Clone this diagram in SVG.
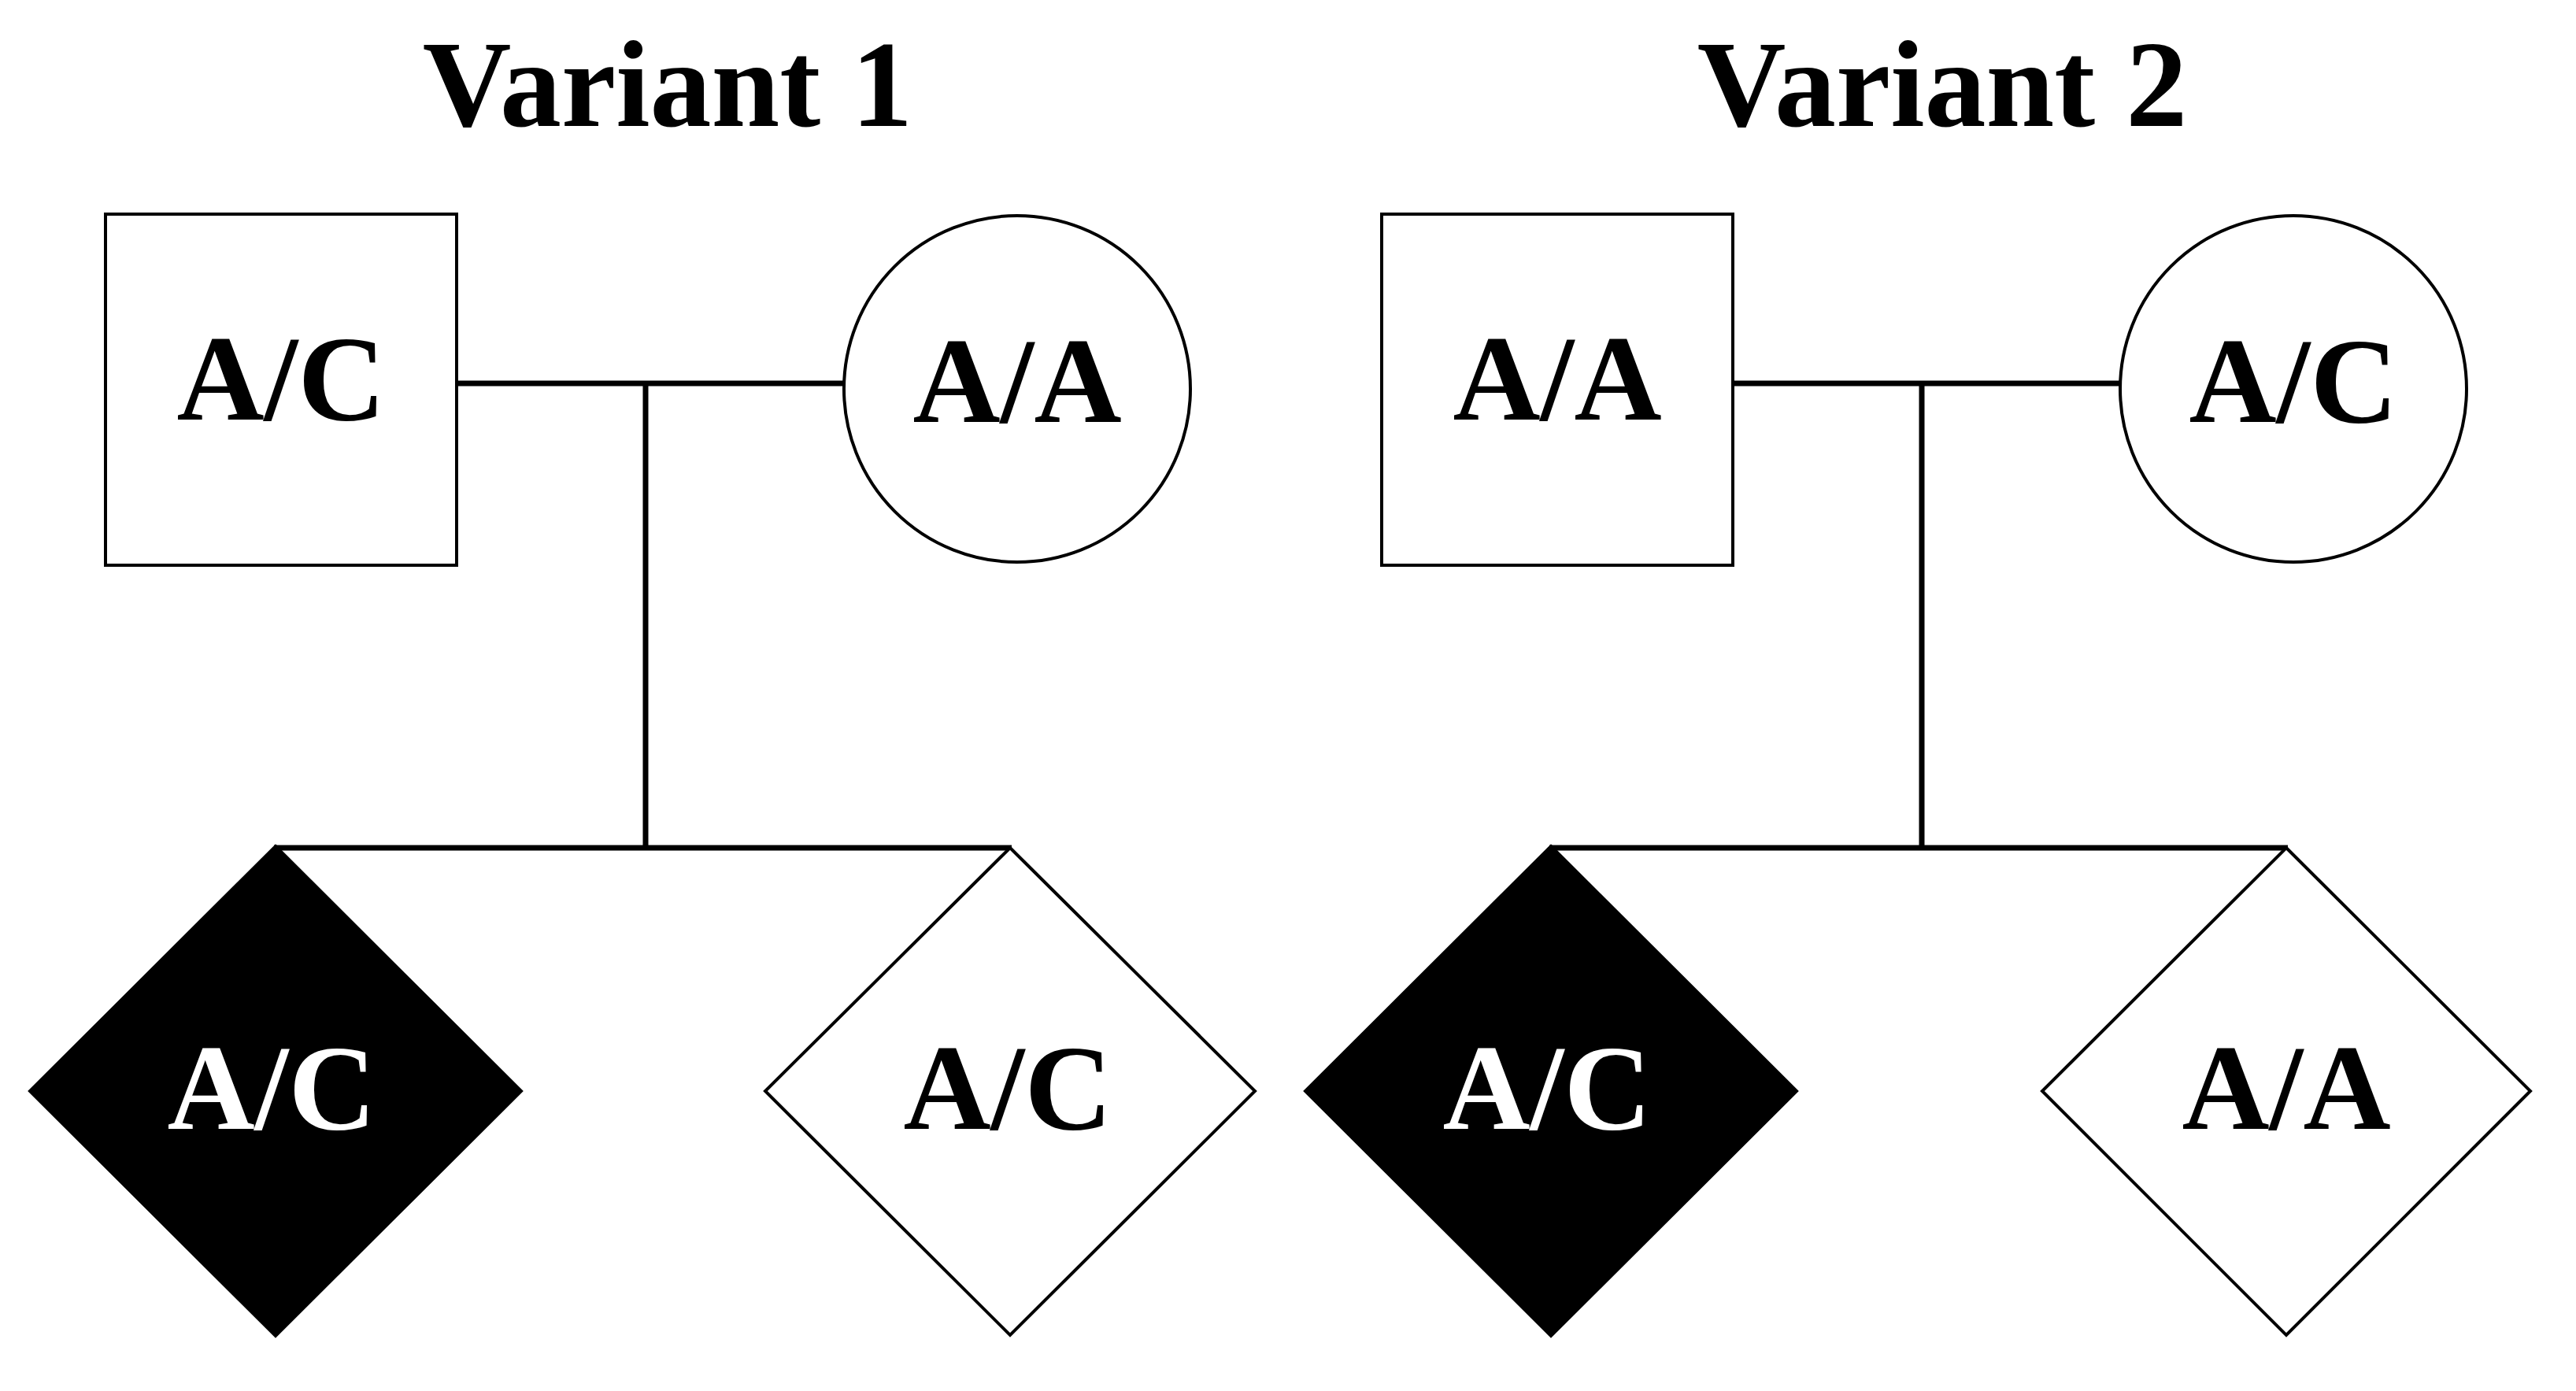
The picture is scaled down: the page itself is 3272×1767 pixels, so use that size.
<svg xmlns="http://www.w3.org/2000/svg" width="3272" height="1767" viewBox="0 0 3272 1767">
<style>
.bg{fill:#fff}
.shape{fill:#fff;stroke:#000;stroke-width:4}
.affected{fill:#000;stroke:#000;stroke-width:4}
.line{stroke:#000;stroke-width:7;fill:none;stroke-linecap:butt}
.title{font-family:"Liberation Serif","DejaVu Serif",serif;font-weight:bold;font-size:156px;text-anchor:middle;fill:#000}
.lbl{font-family:"Liberation Serif","DejaVu Serif",serif;font-weight:bold;font-size:154px;text-anchor:middle;fill:#000}
.lblw{fill:#fff}
</style>
<rect class="bg" x="0" y="0" width="3272" height="1767"/>
<text class="title" x="848" y="160">Variant 1</text>
<text class="title" x="2467" y="160">Variant 2</text>
<g id="connectors">
<line class="line" x1="580" y1="487" x2="1072" y2="487"/>
<line class="line" x1="820" y1="487" x2="820" y2="1077"/>
<line class="line" x1="348" y1="1077" x2="1285" y2="1077"/>
<line class="line" x1="2201" y1="487" x2="2693" y2="487"/>
<line class="line" x1="2441" y1="487" x2="2441" y2="1077"/>
<line class="line" x1="1968" y1="1077" x2="2906" y2="1077"/>
</g>
<g id="v1-father">
<rect class="shape" x="134" y="272" width="446" height="446"/>
<text class="lbl" x="357" y="533">A/C</text>
</g>
<g id="v1-mother">
<circle class="shape" cx="1292" cy="494" r="220"/>
<text class="lbl" x="1292" y="536">A/A</text>
</g>
<g id="v1-child1">
<polygon class="affected" points="350,1075 662,1386 350,1697 38,1386"/>
<text class="lbl lblw" x="345" y="1434">A/C</text>
</g>
<g id="v1-child2">
<polygon class="shape" points="1283,1077 1594,1386 1283,1696 972,1386"/>
<text class="lbl" x="1280" y="1434">A/C</text>
</g>
<g id="v2-father">
<rect class="shape" x="1755" y="272" width="446" height="446"/>
<text class="lbl" x="1978" y="533">A/A</text>
</g>
<g id="v2-mother">
<circle class="shape" cx="2913" cy="494" r="220"/>
<text class="lbl" x="2913" y="536">A/C</text>
</g>
<g id="v2-child1">
<polygon class="affected" points="1970,1075 2282,1386 1970,1697 1658,1386"/>
<text class="lbl lblw" x="1965" y="1434">A/C</text>
</g>
<g id="v2-child2">
<polygon class="shape" points="2904,1077 3214,1386 2904,1696 2594,1386"/>
<text class="lbl" x="2904" y="1434">A/A</text>
</g>
</svg>
